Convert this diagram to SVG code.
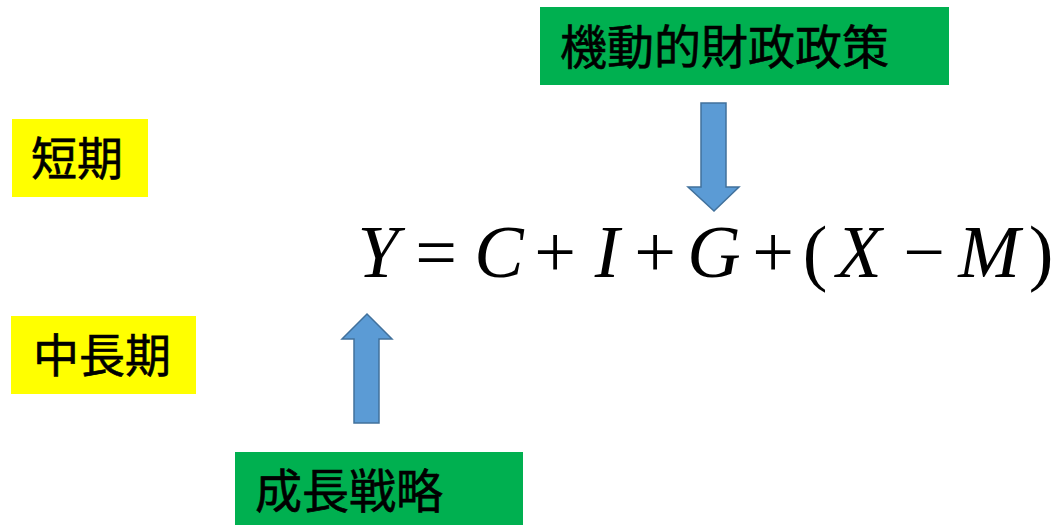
<svg xmlns="http://www.w3.org/2000/svg" width="1056" height="525" viewBox="0 0 1056 525">
  <style>
    .green { fill: #00B050; }
    .yellow { fill: #FFFF00; }
    .jp { font-family: "Noto Sans CJK JP", "Noto Sans CJK SC", sans-serif; font-weight: 400; fill: #000; stroke: #000; stroke-width: 0.6; }
    .arrow { fill: #5B9BD5; stroke: #41719C; stroke-width: 1.5; }
    .mi { font-family: "Liberation Serif", serif; font-style: italic; font-size: 74px; fill: #000; text-anchor: middle; }
    .mo { font-family: "Liberation Serif", serif; font-size: 74px; fill: #000; text-anchor: middle; }
  </style>
  <rect width="1056" height="525" fill="#FFFFFF"/>

  <g id="node-kidou">
    <rect class="green" x="540" y="7" width="409" height="78"/>
    <text class="jp" x="560" y="64" font-size="47">機動的財政政策</text>
  </g>

  <g id="node-tanki">
    <rect class="yellow" x="12" y="119" width="136" height="78"/>
    <text class="jp" x="31" y="175" font-size="46">短期</text>
  </g>

  <g id="node-chuchoki">
    <rect class="yellow" x="11" y="316" width="185" height="78"/>
    <text class="jp" x="33" y="372" font-size="46">中長期</text>
  </g>

  <g id="node-seicho">
    <rect class="green" x="235" y="452" width="288" height="73"/>
    <text class="jp" x="255" y="508" font-size="47">成長戦略</text>
  </g>

  <g id="node-equation">
    <text class="mi" x="378" y="277">Y</text>
    <text class="mo" x="436" y="277">=</text>
    <text class="mi" x="499" y="277">C</text>
    <text class="mo" x="555" y="277">+</text>
    <text class="mi" x="607" y="277">I</text>
    <text class="mo" x="655" y="277">+</text>
    <text class="mi" x="714" y="277">G</text>
    <text class="mo" x="773" y="277">+</text>
    <text class="mo" x="815" y="277">(</text>
    <text class="mi" x="859" y="277">X</text>
    <text class="mo" x="924" y="277">−</text>
    <text class="mi" x="989" y="277">M</text>
    <text class="mo" x="1041" y="277">)</text>
  </g>

  <g id="connectors">
    <polygon class="arrow" points="701,103 726,103 726,187 739,187 714,211 688,187 701,187"/>
    <polygon class="arrow" points="367,314 392,339 379,339 379,423 354,423 354,339 342,339"/>
  </g>
</svg>
